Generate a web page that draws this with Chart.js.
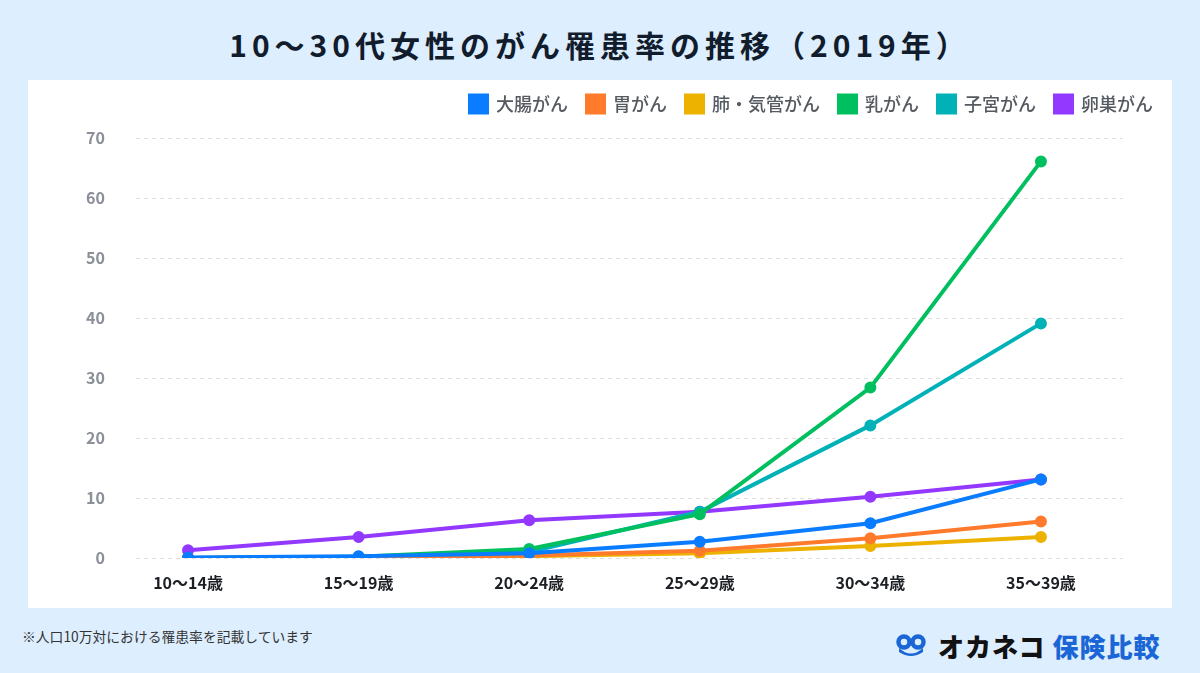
<!DOCTYPE html>
<html lang="ja">
<head>
<meta charset="utf-8">
<script src="https://cdn.jsdelivr.net/npm/chart.js@4.4.1/dist/chart.umd.min.js"></script>
<style>
  html, body { margin:0; padding:0; }
  body { width:1200px; height:673px; background:#ddeefe; position:relative; overflow:hidden;
         font-family:"Noto Sans CJK JP","Noto Sans",sans-serif; }
  #title { position:absolute; left:0; top:22px; width:1200px; text-align:center; font-size:30px; font-weight:700;
           color:#111c2c; letter-spacing:5px; line-height:44px; }
  #panel { position:absolute; left:28px; top:80px; width:1144px; height:528px; background:#fff; }
  #note { position:absolute; left:22px; top:626px; font-size:13.8px; color:#333; }
  #logo { position:absolute; left:896px; top:630px; height:30px; display:flex; align-items:center; }
  #logo .a { font-size:26px; font-weight:900; color:#111; margin-left:12px; letter-spacing:1px; }
  #logo .b { font-size:26px; font-weight:900; color:#1b66d6; margin-left:7px; letter-spacing:1px; }
</style>
</head>
<body>
<div id="title">10〜30代女性のがん罹患率の推移（2019年）</div>
<div id="panel"><canvas id="c"></canvas></div>
<div id="note">※人口10万対における罹患率を記載しています</div>
<div id="logo">
  <svg width="30" height="24" viewBox="0 0 30 24">
    <circle cx="8" cy="9" r="5.5" fill="none" stroke="#1b66d6" stroke-width="4.5"/>
    <circle cx="22" cy="9" r="5.5" fill="none" stroke="#1b66d6" stroke-width="4.5"/>
    <path d="M3 15 Q15 26 27 15 L27 19 Q15 27 3 19 Z" fill="#1b66d6"/>
  </svg>
  <span class="a">オカネコ</span><span class="b">保険比較</span>
</div>
<script>
const categories = ['10〜14歳','15〜19歳','20〜24歳','25〜29歳','30〜34歳','35〜39歳'];
const seriesNames = ['大腸がん','胃がん','肺・気管がん','乳がん','子宮がん','卵巣がん'];
const colorectal = [0.1, 0.3, 0.8, 2.7, 5.8, 13.1];
const stomach    = [0.0, 0.1, 0.4, 1.2, 3.3, 6.1];
const lung       = [0.0, 0.1, 0.3, 0.8, 2.0, 3.5];
const breast     = [0.0, 0.2, 1.5, 7.3, 28.4, 66.1];
const uterus     = [0.0, 0.2, 1.0, 7.7, 22.1, 39.1];
const ovary      = [1.3, 3.5, 6.3, 7.7, 10.2, 13.1];
const yTicks     = [0, 10, 20, 30, 40, 50, 60, 70];
const colors = ['#0a7cff','#ff7a2b','#edb100','#00bf5f','#00b2b8','#9238ff'];

const allSeries = [colorectal, stomach, lung, breast, uterus, ovary];
const datasets = allSeries.map((vals, k) => ({
  label: seriesNames[k],
  data: vals.map((v, i) => ({x: i, y: v})),
  borderColor: colors[k],
  backgroundColor: colors[k],
  pointBackgroundColor: colors[k],
  pointBorderColor: colors[k],
  borderWidth: 4,
  pointRadius: 4,
  pointHoverRadius: 4,
  tension: 0
}));

const legendSpacer = {
  id: 'legendSpacer',
  beforeLayout(chart) {
    const lg = chart.legend;
    if (lg && !lg._patched) {
      const fit = lg.fit;
      lg.fit = function() { fit.call(this); this.height += 15; };
      lg._patched = true;
    }
  }
};

new Chart(document.getElementById('c'), {
  type: 'line',
  data: { datasets },
  plugins: [legendSpacer],
  options: {
    responsive: true,
    maintainAspectRatio: false,
    animation: false,
    layout: { padding: { top: -4, right: 0, left: 0, bottom: 0 } },
    plugins: {
      legend: {
        position: 'top',
        align: 'end',
        labels: {
          boxWidth: 17, boxHeight: 17, padding: 19,
          color: '#555a60',
          font: { family: '"Noto Sans CJK JP"', size: 18, weight: '500' }
        }
      },
      tooltip: { enabled: false }
    },
    scales: {
      x: {
        type: 'linear',
        min: -0.305, max: 5.481,
        afterBuildTicks: s => { s.ticks = categories.map((_, i) => ({value: i})); },
        afterFit: s => { s.height = 50; },
        grid: { display: false, drawTicks: false },
        border: { display: false },
        ticks: {
          padding: 15,
          color: '#1c1f24',
          font: { family: '"Noto Sans CJK JP"', size: 16, weight: '700' },
          callback: v => categories[v]
        }
      },
      y: {
        min: 0, max: 70,
        afterBuildTicks: s => { s.ticks = yTicks.map(v => ({value: v})); },
        afterFit: s => { s.width = 108; },
        grid: { color: '#dedede', lineWidth: 1, drawTicks: false },
        border: { display: false, dash: [4, 4] },
        ticks: {
          padding: 31,
          color: '#8a8f98',
          font: { family: '"Noto Sans CJK JP"', size: 16, weight: '700' }
        }
      },
      yR: {
        position: 'right',
        display: true,
        grid: { display: false, drawTicks: false },
        border: { display: false },
        ticks: { display: false },
        afterFit: s => { s.width = 49; }
      }
    }
  }
});
</script>
</body>
</html>
